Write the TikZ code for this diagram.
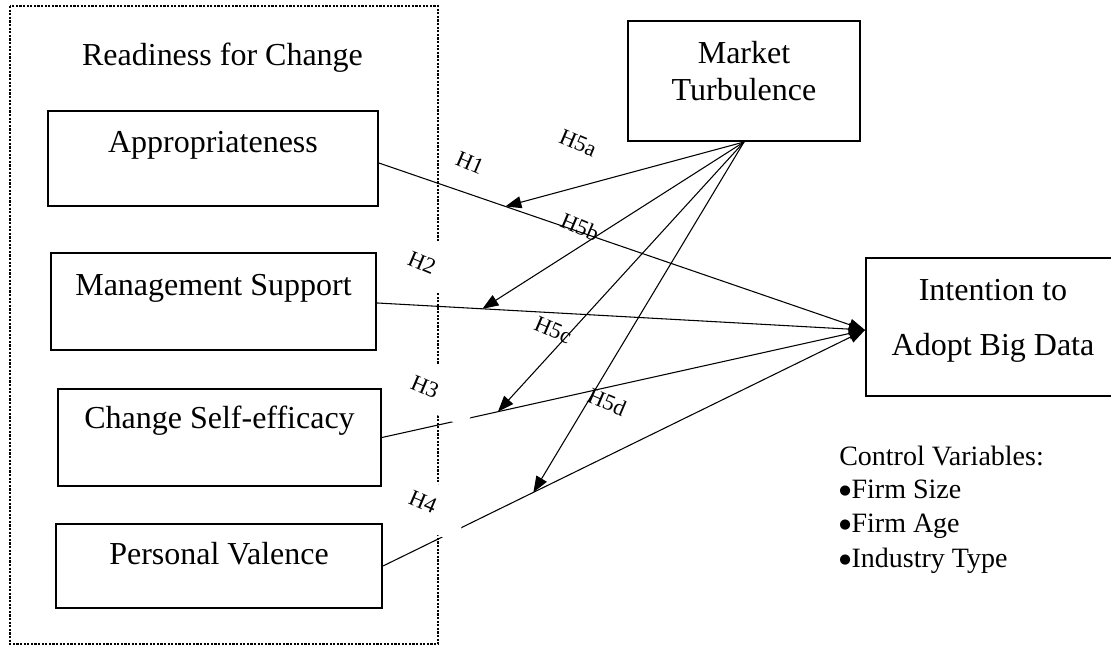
\documentclass[tikz,border=0pt]{standalone}
\usepackage{fontspec}
\setmainfont{Liberation Serif}
\newfontfamily\symfont{DejaVu Sans}
\newcommand{\cvbullet}{\raisebox{2.6pt}{\symfont\fontsize{10}{10}\selectfont ●}\hspace{0.5pt}}
\usetikzlibrary{arrows.meta,calc,fit}
\begin{document}
\begin{tikzpicture}[x=0.75pt,y=-0.75pt,
  box/.style={draw, line width=1.5pt, inner sep=0pt},
  boxtext/.style={font=\fontsize{24}{28}\selectfont, anchor=base, inner sep=0pt},
  conn/.style={line width=0.8pt, -{Triangle[length=12pt,width=9pt]}},
  hyp/.style={font=\fontsize{17}{20}\selectfont, rotate=-23, inner sep=0pt},
  hypbg/.style={fill=white, rotate=-23, inner sep=0pt, minimum width=54pt, minimum height=35.25pt},
  frame/.style={line width=1.6pt, dash pattern=on 1.6pt off 1.1pt},
  ctrl/.style={font=\fontsize{21}{25}\selectfont, anchor=base west, inner sep=0pt}
]
\useasboundingbox (0,0) rectangle (1111,646);

% dotted frame around the readiness dimensions
\draw[frame] (10,6) rectangle (438,644);
\node[boxtext] (rfc) at (222.5,65) {Readiness for Change};

% readiness dimensions
\node[box, fit={(48,111) (378,206)}] (app) {};
\node[boxtext] (appT) at (213,152) {Appropriateness};
\node[box, fit={(51,253) (376,350)}] (mgmt) {};
\node[boxtext] (mgmtT) at (213.5,295) {Management Support};
\node[box, fit={(58,389) (381,486)}] (cse) {};
\node[boxtext] (cseT) at (219.5,428) {Change Self-efficacy};
\node[box, fit={(56,524) (382,608)}] (pv) {};
\node[boxtext] (pvT) at (219,564) {Personal Valence};

% moderator
\node[box, fit={(628,21) (860,141)}] (mkt) {};
\node[boxtext] (mktT1) at (744,63) {Market};
\node[boxtext] (mktT2) at (744,100) {Turbulence};

% outcome
\node[box, fit={(866,258) (1120,396)}] (int) {};
\node[boxtext] (intT1) at (993,300) {Intention to};
\node[boxtext] (intT2) at (993,355) {Adopt Big Data};

% control variables
\node[ctrl] (cv0) at (839,465) {Control Variables:};
\node[ctrl] (cv1) at (839,498) {\cvbullet Firm Size};
\node[ctrl] (cv2) at (839,532) {\cvbullet Firm Age};
\node[ctrl] (cv3) at (839,567) {\cvbullet Industry Type};

% direct paths
\coordinate (tgt) at ([yshift=-2.25pt]int.west);
\coordinate (s1) at ([yshift=-3.4pt]app.east);
\coordinate (s2) at ([yshift=-1.1pt]mgmt.east);
\coordinate (s3) at (cse.east);
\coordinate (s4) at (pv.east);
\draw[conn] (s1) -- (tgt);
\draw[conn] (s2) -- (tgt);
\draw[conn] (s3) -- (tgt);
\draw[conn] (s4) -- (tgt);

% white label boxes of the direct paths H2-H4
\node[hypbg] (h2bg) at (439,267.7) {};
\node[hypbg] (h3bg) at (442,391.7) {};
\node[hypbg] (h4bg) at (431,506.7) {};

% hypothesis labels of the direct paths
\node[hyp] (h1) at (470,163) {H1};
\node[hyp] (h2) at (422,263) {H2};
\node[hyp] (h3) at (425,387) {H3};
\node[hyp] (h4) at (423,502) {H4};

% moderating paths
\coordinate (m1) at ($(s1)!0.26!(tgt)$);
\coordinate (m2) at ($(s2)!0.216!(tgt)$);
\coordinate (m3) at ($(s3)!0.24!(tgt)$);
\coordinate (m4) at ($(s4)!0.312!(tgt)$);
\draw[conn] (mkt.south) -- (m1);
\draw[conn] (mkt.south) -- (m2);
\draw[conn] (mkt.south) -- (m3);
\draw[conn] (mkt.south) -- (m4);

\node[hyp] (h5a) at (578,143) {H5a};
\node[hyp] (h5b) at (580,227) {H5b};
\node[hyp] (h5c) at (553,330) {H5c};
\node[hyp] (h5d) at (607,402) {H5d};
\end{tikzpicture}
\end{document}
